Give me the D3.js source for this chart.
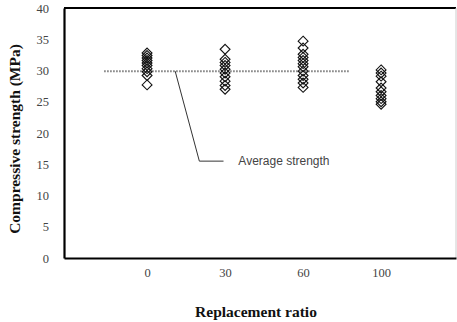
<!DOCTYPE html>
<html>
<head>
<meta charset="utf-8">
<script src="https://cdn.jsdelivr.net/npm/d3@7"></script>
<style>
  body { margin: 0; background: #fff; }
  svg { display: block; }
</style>
</head>
<body>
<svg id="chart"></svg>
<script>
// replacement ratio categories (%)
const categories = ['0', '30', '60', '100'];
// compressive strength of each specimen (MPa)
const strength0 = [32.8, 32.4, 32.0, 31.6, 31.2, 30.8, 30.3, 29.8, 29.2, 27.7];
const strength30 = [33.4, 31.8, 31.3, 30.8, 30.2, 29.6, 29.0, 28.3, 27.6, 27.0];
const strength60 = [34.7, 33.6, 32.6, 32.1, 31.6, 31.1, 30.6, 29.9, 29.2, 28.6, 28.0, 27.3];
const strength100 = [30.1, 29.6, 29.1, 28.2, 27.2, 26.6, 26.0, 25.5, 25.0, 24.6];
const averageStrength = 29.9;
const yTicks = [0, 5, 10, 15, 20, 25, 30, 35, 40];

const series = [strength0, strength30, strength60, strength100];

const width = 457;
const height = 322;
const margin = { top: 8, right: 1, bottom: 64, left: 64 };

const svg = d3.select('#chart')
  .attr('width', width)
  .attr('height', height);

// categories sit at positions 1..4 on a linear scale
const x = d3.scaleLinear()
  .domain([-0.065, 4.96])
  .range([margin.left, width - margin.right]);

const y = d3.scaleLinear()
  .domain([0, 40])
  .range([height - margin.bottom, margin.top]);

// frame
svg.append('line')
  .attr('x1', margin.left).attr('x2', width - margin.right)
  .attr('y1', y(40)).attr('y2', y(40))
  .attr('stroke', '#000').attr('stroke-width', 2);
svg.append('line')
  .attr('x1', width - margin.right).attr('x2', width - margin.right)
  .attr('y1', y(40)).attr('y2', y(0))
  .attr('stroke', '#ccc').attr('stroke-width', 1);

// y axis
const yAxis = svg.append('g')
  .attr('transform', `translate(${margin.left},0)`)
  .call(d3.axisLeft(y).tickValues(yTicks).tickSize(0).tickPadding(15));
yAxis.select('.domain').attr('stroke', '#000').attr('stroke-width', 2.2);
yAxis.selectAll('text')
  .attr('font-family', 'Liberation Serif')
  .attr('font-size', 12.5)
  .attr('fill', '#444');

// x axis
const xAxis = svg.append('g')
  .attr('transform', `translate(0,${y(0)})`)
  .call(d3.axisBottom(x)
    .tickValues(categories.map((c, i) => i + 1))
    .tickFormat((d, i) => categories[i])
    .tickSize(0).tickPadding(10));
xAxis.select('.domain').attr('stroke', '#000').attr('stroke-width', 2.2);
xAxis.selectAll('text')
  .attr('font-family', 'Liberation Serif')
  .attr('font-size', 12.5)
  .attr('fill', '#444');

// average strength line (dotted)
svg.append('line')
  .attr('x1', x(0.45)).attr('x2', x(3.6))
  .attr('y1', y(averageStrength)).attr('y2', y(averageStrength))
  .attr('stroke', '#777')
  .attr('stroke-width', 2)
  .attr('stroke-dasharray', '1.5,1.5');

// leader and label
const lead = d3.line();
svg.append('path')
  .attr('d', lead([
    [x(1.36), y(averageStrength)],
    [x(1.67), y(15.5)],
    [x(1.98), y(15.5)]
  ]))
  .attr('fill', 'none')
  .attr('stroke', '#333')
  .attr('stroke-width', 1);

svg.append('text')
  .attr('x', x(2.17))
  .attr('y', y(15.5) + 4)
  .attr('font-family', 'Liberation Sans')
  .attr('font-size', 12)
  .attr('fill', '#444')
  .text('Average strength');

// square diamonds (rotated squares)
const diamond = d3.symbol().type(d3.symbolDiamond2 || d3.symbolDiamond).size(62);
const points = series.flatMap((vals, i) => vals.map(v => ({ c: i + 1, v })));
svg.append('g')
  .selectAll('path')
  .data(points)
  .enter()
  .append('path')
  .attr('d', diamond)
  .attr('transform', d => `translate(${x(d.c)},${y(d.v)})`)
  .attr('fill', 'none')
  .attr('stroke', '#111')
  .attr('stroke-width', 1.1);

// axis titles
svg.append('text')
  .attr('x', 256)
  .attr('y', 317)
  .attr('text-anchor', 'middle')
  .attr('font-family', 'Liberation Serif')
  .attr('font-weight', 'bold')
  .attr('font-size', 15.5)
  .attr('fill', '#111')
  .text('Replacement ratio');

svg.append('text')
  .attr('transform', `translate(20,${(y(0) + y(40)) / 2 + 6}) rotate(-90)`)
  .attr('text-anchor', 'middle')
  .attr('font-family', 'Liberation Serif')
  .attr('font-weight', 'bold')
  .attr('font-size', 15.5)
  .attr('fill', '#111')
  .text('Compressive strength (MPa)');
</script>
</body>
</html>
